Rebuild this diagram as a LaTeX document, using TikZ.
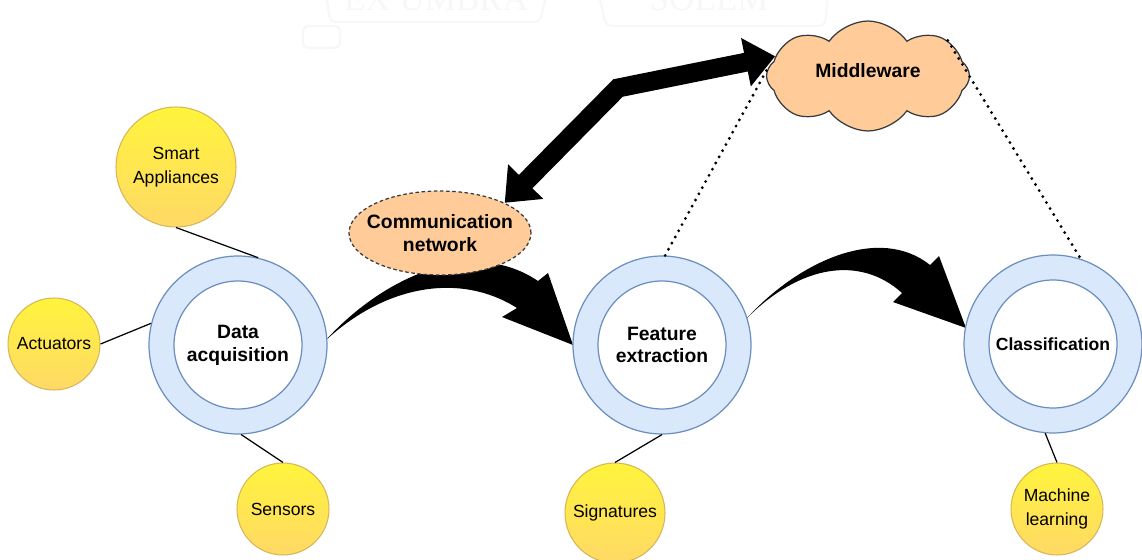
\documentclass[tikz,border=0pt]{standalone}
\usepackage{fontspec}
\setmainfont{Liberation Sans}
\newfontfamily\mottofont{Liberation Serif}
\usetikzlibrary{shapes.geometric,shapes.symbols,arrows.meta}

\definecolor{ringfill}{HTML}{DAE8FC}
\definecolor{ringline}{HTML}{6C8EBF}
\definecolor{peach}{HTML}{FFCC99}
\definecolor{peachline}{HTML}{36393D}
\definecolor{sunline}{HTML}{D6B656}
\definecolor{suntop}{HTML}{FFF43C}
\definecolor{sunbot}{HTML}{FFD966}
\definecolor{motto}{HTML}{F7F7F7}

\tikzset{
  ring/.style={circle,draw=ringline,fill=ringfill,line width=0.7pt,minimum size=3.56cm,inner sep=0pt},
  core/.style={circle,draw=ringline,fill=white,line width=0.7pt,minimum size=2.56cm,inner sep=0pt,align=center,font=\fontsize{11}{13}\selectfont\bfseries},
  sun/.style={circle,draw=sunline,top color=suntop,bottom color=sunbot,line width=0.6pt,inner sep=0pt,align=center,font=\fontsize{10}{13.5}\selectfont},
  link/.style={line width=0.7pt},
  dots/.style={line width=1.8pt,line cap=round,dash pattern=on 0pt off 4pt},
  bigarrow/.style={line width=10.8pt,>={Triangle[length=17pt,width=27pt]},<->},
  peachbox/.style={draw=peachline,fill=peach,line width=0.7pt,inner sep=0pt},
  label11/.style={align=center,font=\fontsize{11}{13}\selectfont\bfseries},
  motto/.style={text=motto,anchor=base,font=\mottofont\fontsize{20}{20}\selectfont},
  mottoline/.style={draw=motto,line width=1.2pt,rounded corners=3pt}
}

\begin{document}
\begin{tikzpicture}[x=0.02cm,y=-0.02cm]
		\useasboundingbox (0,0) rectangle (1142,560);
		%Watermark
		\node[motto] (ex) at (436,11) {EX UMBRA};
		\node[motto] (solem) at (709,11) {SOLEM};
		\draw[mottoline] (327,0) -- (330,22) -- (540,22) -- (545,0);
		\draw[mottoline] (303,26) -- (340,26) -- (340,48) -- (303,48) -- cycle;
		\draw[mottoline] (600,0) -- (606,26) -- (825,26) -- (827,0);
		%Curved arrows
		\fill (325,341) .. controls (380,280) and (470,235) .. (538,281) -- (548,273) -- (573,345) -- (502,317) -- (517,308) .. controls (460,272) and (385,285) .. (325,341) -- cycle;
		\fill (747,318) .. controls (800,260) and (880,225) .. (930,265) -- (939,256) -- (966,328) -- (893,302) -- (902,293) .. controls (860,255) and (800,265) .. (747,318) -- cycle;
		%Rings
		\node[ring] (data) at (238,345) {};
		\node[core] (datacore) at (data) {Data\\acquisition};
		\node[ring] (feat) at (662,345) {};
		\node[core] (featcore) at (feat) {Feature\\extraction};
		\node[ring] (cls) at (1053,344) {};
		\node[core,font=\fontsize{10}{13}\selectfont\bfseries] (clscore) at (cls) {Classification};
		%Devices
		\node[sun,minimum size=2.4cm] (smart) at (176,167) {Smart\\Appliances};
		\node[sun,minimum size=1.84cm] (act) at (54,344) {Actuators};
		\node[sun,minimum size=1.84cm] (sens) at (283,509) {Sensors};
		\node[sun,minimum size=2cm] (sig) at (615,513) {Signatures};
		\node[sun,minimum size=1.84cm] (ml) at (1057,509) {Machine\\learning};
		\draw[link] (smart.south) -- (data.77);
		\draw[link] (act.east) -- (data.166);
		\draw[link] (sens.north) -- (data.-88);
		\draw[link] (sig.north) -- (feat.south);
		\draw[link] (ml.north) -- (cls.-95);
		%Network and middleware
		\node[peachbox,ellipse,dash pattern=on 2pt off 1.5pt,minimum width=3.64cm,minimum height=1.68cm] (comm) at (440,233) {};
		\node[label11] (commtext) at (comm) {Communication\\network};
		\node[peachbox,cloud,cloud puffs=8,cloud puff arc=110,aspect=1.8,minimum width=4.06cm,minimum height=2.2cm] (mw) at (868,76) {};
		\node[label11,yshift=3pt] (mwtext) at (mw) {Middleware};
		\coordinate (bend) at (618,88);
		\draw[bigarrow] (comm.25) -- (bend) -- (mw.168);
		\draw[dots] (feat.88) -- (mw.174);
		\draw[dots] (mw.24) -- (cls.72);
\end{tikzpicture}
\end{document}
